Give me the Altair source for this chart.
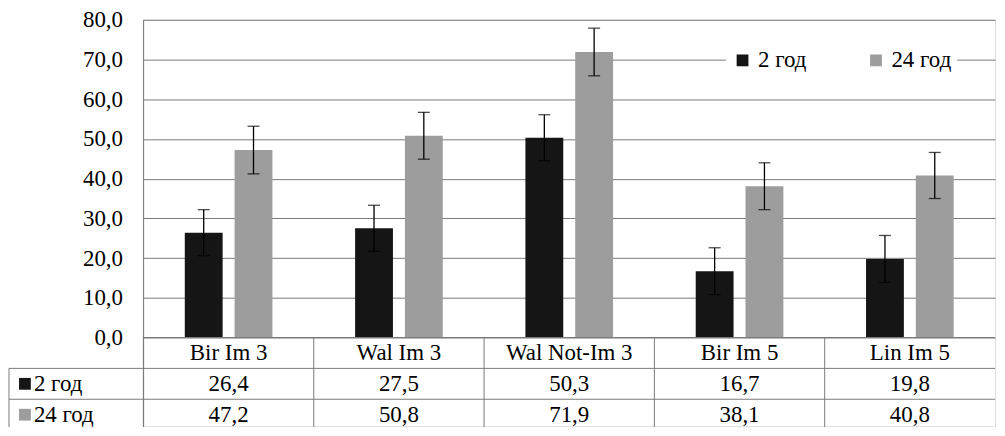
import altair as alt
import pandas as pd

# ---- data ----
categories = ["Bir Im 3", "Wal Im 3", "Wal Not-Im 3", "Bir Im 5", "Lin Im 5"]
series = ["2 год", "24 год"]
values_2h = [26.4, 27.5, 50.3, 16.7, 19.8]
values_24h = [47.2, 50.8, 71.9, 38.1, 40.8]
err_2h = [5.8, 5.8, 5.8, 5.9, 5.9]
err_24h = [6.0, 5.9, 6.0, 5.9, 5.8]
y_ticks = [0, 10, 20, 30, 40, 50, 60, 70, 80]
colors = ["#151515", "#9d9d9d"]

# ---- layout constants ----
FONT = "Liberation Serif"
FS = 23
W = 855            # plot width
PLOT_H = 319       # bar area height
ROW_H = 31
TABLE_ROWS = ["header"] + series
TABLE_BOTTOM = PLOT_H + ROW_H * len(TABLE_ROWS) + 10
LABEL_COL = 135    # width of the row-label column left of the plot
H = 408
LINE = "#7a7a7a"

rows = []
for s, vals, errs in [(series[0], values_2h, err_2h), (series[1], values_24h, err_24h)]:
    for c, v, e in zip(categories, vals, errs):
        rows.append({"category": c, "series": s, "value": v, "lo": v - e, "hi": v + e})
bars_df = pd.DataFrame(rows)

table_rows = [{"category": c, "row": "header", "text": c} for c in categories]
for r in rows:
    table_rows.append({"category": r["category"], "row": r["series"],
                       "text": f"{r['value']:.1f}".replace(".", ",")})
table_df = pd.DataFrame(table_rows)
series_df = pd.DataFrame({"series": series, "row": series})
cat_df = pd.DataFrame({"category": categories})
hline_df = pd.DataFrame({"row": series})
one = pd.DataFrame({"a": [0]})

x_enc = alt.X("category:N", sort=categories, axis=None,
              scale=alt.Scale(domain=categories, paddingInner=0, paddingOuter=0))
xoff_enc = alt.XOffset("series:N", sort=series,
                       scale=alt.Scale(domain=series, paddingInner=0.24, paddingOuter=0.83))
y_scale = alt.Scale(domain=[0, 80], range=[PLOT_H, 0], nice=False, zero=True)
row_scale = alt.Scale(domain=TABLE_ROWS, range=[PLOT_H, PLOT_H + ROW_H * len(TABLE_ROWS)],
                      paddingInner=0, paddingOuter=0)
color_enc = alt.Color(
    "series:N", sort=series,
    scale=alt.Scale(domain=series, range=colors),
    legend=alt.Legend(orient="none", legendX=585, legendY=24, direction="horizontal",
                      title=None, symbolType="square", symbolSize=140, symbolStrokeWidth=0,
                      labelFont=FONT, labelFontSize=FS, labelColor="black",
                      fillColor="white", padding=5, columnPadding=58, labelOffset=4),
)

bars = alt.Chart(bars_df).mark_bar().encode(
    x=x_enc,
    xOffset=xoff_enc,
    y=alt.Y("value:Q", scale=y_scale,
            axis=alt.Axis(values=y_ticks, title=None, grid=True, gridColor=LINE, gridWidth=1,
                          domain=False, ticks=False, tickSize=0, labelPadding=21,
                          labelFont=FONT, labelFontSize=FS, labelColor="black",
                          labelExpr="replace(format(datum.value, '.1f'), '.', ',')")),
    color=color_enc,
)

err_rule = alt.Chart(bars_df).mark_rule(color="black", strokeWidth=1.3).encode(
    x=x_enc, xOffset=xoff_enc,
    y=alt.Y("lo:Q", scale=y_scale, axis=None), y2="hi:Q",
)
cap_hi = alt.Chart(bars_df).mark_tick(color="black", size=12, thickness=1.3,
                                      orient="horizontal").encode(
    x=x_enc, xOffset=xoff_enc, y=alt.Y("hi:Q", scale=y_scale, axis=None))
cap_lo = alt.Chart(bars_df).mark_tick(color="black", size=12, thickness=1.3,
                                      orient="horizontal").encode(
    x=x_enc, xOffset=xoff_enc, y=alt.Y("lo:Q", scale=y_scale, axis=None))

table_text = alt.Chart(table_df).mark_text(font=FONT, fontSize=FS, color="black",
                                           baseline="middle").encode(
    x=x_enc,
    y=alt.Y("row:N", scale=row_scale, axis=None),
    text="text:N",
)
row_labels = alt.Chart(series_df).mark_text(font=FONT, fontSize=FS, color="black",
                                            align="left", baseline="middle").encode(
    x=alt.value(-110),
    y=alt.Y("row:N", scale=row_scale, axis=None),
    text="series:N",
)
row_squares = alt.Chart(series_df).mark_point(shape="square", filled=True, size=140,
                                              opacity=1).encode(
    x=alt.value(-119),
    y=alt.Y("row:N", scale=row_scale, axis=None),
    color=color_enc,
)

vlines = alt.Chart(cat_df).mark_rule(color=LINE, strokeWidth=1).encode(
    x=alt.X("category:N", sort=categories, bandPosition=0, axis=None,
            scale=alt.Scale(domain=categories, paddingInner=0, paddingOuter=0)),
    y=alt.value(PLOT_H), y2=alt.value(TABLE_BOTTOM),
)
hlines = alt.Chart(hline_df).mark_rule(color=LINE, strokeWidth=1).encode(
    y=alt.Y("row:N", bandPosition=0, scale=row_scale, axis=None),
    x=alt.value(-LABEL_COL), x2=alt.value(W),
)
left_col = alt.Chart(one).mark_rule(color=LINE, strokeWidth=1).encode(
    x=alt.value(-LABEL_COL), y=alt.value(PLOT_H + ROW_H), y2=alt.value(TABLE_BOTTOM))
left_border = alt.Chart(one).mark_rule(color=LINE, strokeWidth=1).encode(
    x=alt.value(0), y=alt.value(0), y2=alt.value(TABLE_BOTTOM))
axis_line = alt.Chart(one).mark_rule(color=LINE, strokeWidth=1).encode(
    x=alt.value(0), x2=alt.value(W), y=alt.value(PLOT_H))

chart = alt.layer(
    bars, err_rule, cap_hi, cap_lo, vlines, hlines, left_col, left_border, axis_line,
    table_text, row_labels, row_squares,
).resolve_scale(y="independent").properties(
    width=W, height=H,
    autosize=alt.AutoSizeParams(type="none"),
    padding={"left": LABEL_COL + 1, "top": 11, "right": 2, "bottom": 0},
).configure_view(stroke=None).configure(background="white")

chart.save("out.html", embed_options={"renderer": "svg", "actions": False})
